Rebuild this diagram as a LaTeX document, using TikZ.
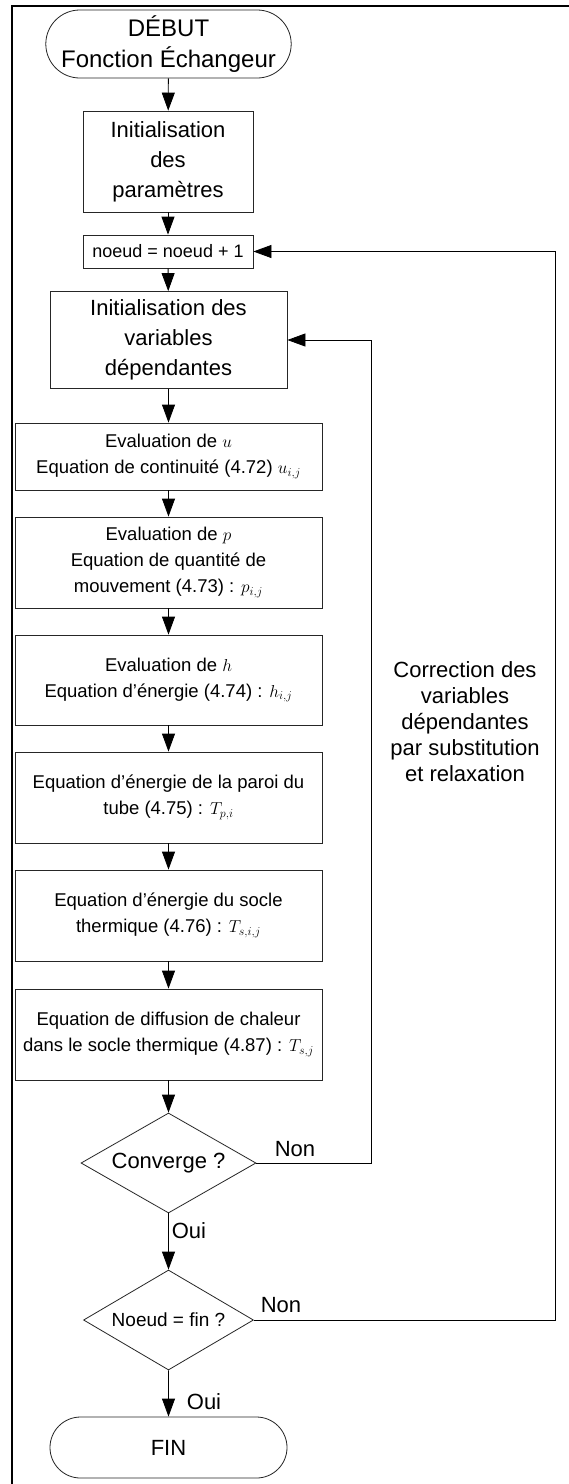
\documentclass[tikz,border=0pt]{standalone}
\usepackage{fontspec}
\setmainfont{Liberation Sans}
\usetikzlibrary{arrows.meta,shapes.geometric,shapes.misc}
\begin{document}
\begin{tikzpicture}[x=1pt,y=-1pt,
  box/.style={draw=black!85, line width=0.8pt, rectangle, inner sep=0pt, align=center},
  term/.style={draw=black!85, line width=0.8pt, rounded rectangle, inner sep=0pt, align=center},
  dec/.style={draw=black!85, line width=0.8pt, diamond, aspect=1.75, inner sep=0pt, align=center},
  arr/.style={line width=0.8pt, -{Triangle[length=18pt,width=13pt]}},
  big/.style={font=\fontsize{24}{31}\selectfont},
  mid/.style={font=\fontsize{22}{30}\selectfont},
  sml/.style={font=\fontsize{18.5}{26}\selectfont},
  lbl/.style={font=\fontsize{22}{26}\selectfont, inner sep=0pt, align=center}]
\useasboundingbox (0,0) rectangle (569,1484);
\fill[white] (0,0) rectangle (569,1484);
\draw[line width=2pt] (12,1484) -- (12,6) -- (569,6);

\node[term,big,minimum width=237pt,minimum height=68pt] (deb) at (168.5,44) {DÉBUT\\Fonction Échangeur};
\node[box,mid,minimum width=170pt,minimum height=101pt] (init) at (168,161.5) {Initialisation\\des\\paramètres};
\node[box,font=\fontsize{18}{22}\selectfont,minimum width=170pt,minimum height=33pt] (noeud) at (168,251.5) {noeud = noeud + 1};
\node[box,mid,minimum width=237pt,minimum height=97pt] (initvar) at (168.5,340) {Initialisation des\\variables\\dépendantes};
\node[box,sml,minimum width=307pt,minimum height=67pt] (u) at (168.5,456.5) {Evaluation de $u$\\Equation de continuité (4.72) $u_{i,j}$};
\node[box,sml,minimum width=307pt,minimum height=91pt] (p) at (168.5,562.5) {Evaluation de $p$\\Equation de quantité de\\mouvement (4.73) : $p_{i,j}$};
\node[box,sml,minimum width=307pt,minimum height=90pt] (h) at (168.5,680) {Evaluation de $h$\\Equation d'énergie (4.74) : $h_{i,j}$};
\node[box,sml,minimum width=307pt,minimum height=91pt] (paroi) at (168.5,797.5) {Equation d'énergie de la paroi du\\tube (4.75) : $T_{p,i}$};
\node[box,sml,minimum width=307pt,minimum height=91pt] (socle) at (168.5,915.5) {Equation d'énergie du socle\\thermique (4.76) : $T_{s,i,j}$};
\node[box,sml,minimum width=307pt,minimum height=91pt] (diff) at (168.5,1034.5) {Equation de diffusion de chaleur\\dans le socle thermique (4.87) : $T_{s,j}$};
\node[dec,mid,minimum width=175pt,minimum height=100pt] (conv) at (168.5,1163) {Converge ?};
\node[dec,font=\fontsize{19}{24}\selectfont,minimum width=170pt,minimum height=100pt] (fin) at (168.5,1320) {Noeud = fin ?};
\node[term,mid,minimum width=237pt,minimum height=61pt] (end) at (168.5,1447.5) {FIN};

\draw[arr] (deb) -- (init);
\draw[arr] (init) -- (noeud);
\draw[arr] (noeud) -- (initvar);
\draw[arr] (initvar) -- (u);
\draw[arr] (u) -- (p);
\draw[arr] (p) -- (h);
\draw[arr] (h) -- (paroi);
\draw[arr] (paroi) -- (socle);
\draw[arr] (socle) -- (diff);
\draw[arr] (diff) -- (conv);
\draw[arr] (conv) -- (fin);
\draw[arr] (fin) -- (end);

\coordinate (c1) at (371,1163);
\coordinate (c2) at (555,1320);
\draw[arr] (conv.east) -- (c1) |- (initvar.east);
\draw[arr] (fin.east) -- (c2) |- (noeud.east);

\node[lbl] (non1) at (295,1149) {Non};
\node[lbl] (non2) at (281,1305) {Non};
\node[lbl] (oui1) at (189,1231) {Oui};
\node[lbl] (oui2) at (204,1402) {Oui};
\node[lbl] (corr) at (465,722) {Correction des\\variables\\dépendantes\\par substitution\\et relaxation};
\end{tikzpicture}
\end{document}
